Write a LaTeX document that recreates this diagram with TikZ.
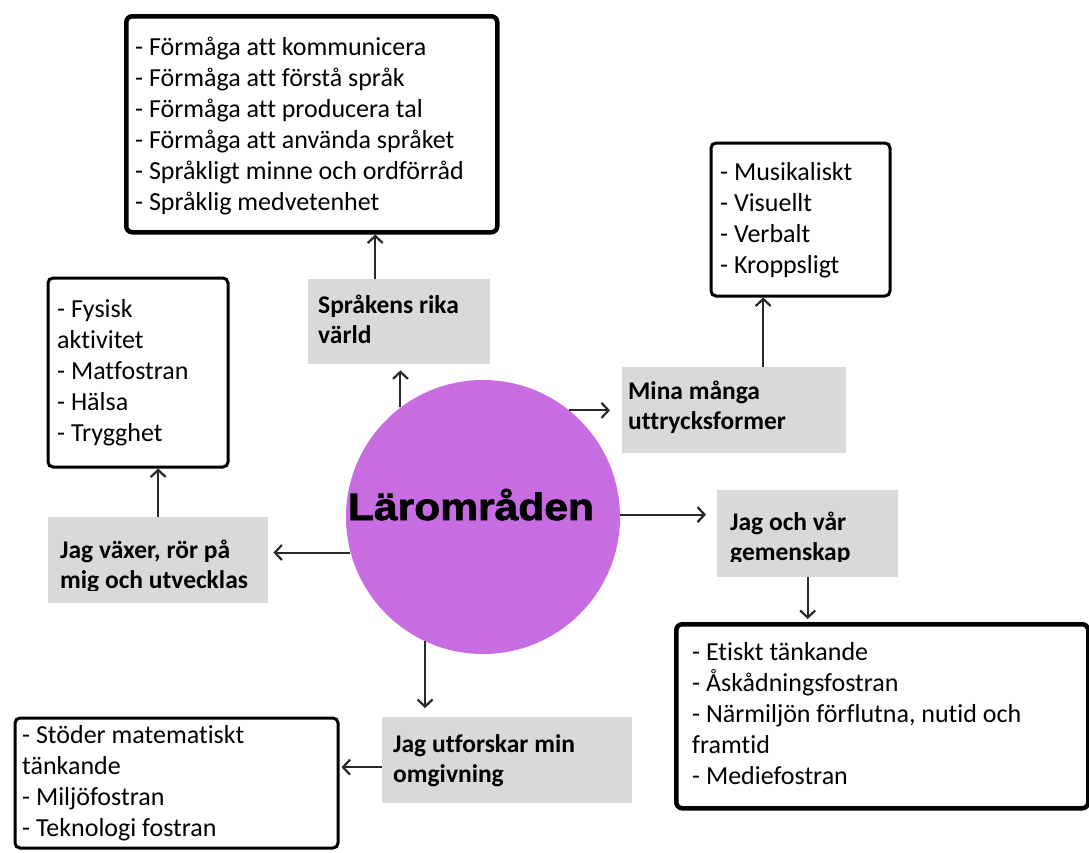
\documentclass[tikz,border=0pt]{standalone}
\usepackage{fontspec}
\setmainfont[Ligatures=NoCommon]{Carlito}
\newfontfamily\heavyfont[FakeStretch=1.12,FakeBold=2]{Liberation Sans}
\usetikzlibrary{arrows.meta}
\definecolor{circfill}{RGB}{200,108,226}
\definecolor{boxgray}{RGB}{217,217,217}
\definecolor{arrowcol}{RGB}{40,40,40}
\begin{document}
\begin{tikzpicture}[x=1pt,y=-1pt,
 thickbox/.style={draw=black, line width=4.5pt, rounded corners=6pt, fill=white, anchor=north west, inner sep=0pt},
 medbox/.style={draw=black, line width=3pt, rounded corners=5pt, fill=white, anchor=north west, inner sep=0pt},
 graybox/.style={fill=boxgray, anchor=north west, inner sep=0pt},
 listtext/.style={anchor=north west, inner sep=0pt, align=left, font=\fontsize{26}{31}\selectfont},
 labeltext/.style={anchor=north west, inner sep=0pt, align=left, font=\fontsize{25.5}{30}\selectfont\bfseries},
 arr/.style={draw=arrowcol, line width=2pt, -{Straight Barb[length=7pt,width=15pt,line width=2.2pt]}}
]
\useasboundingbox (0,0) rectangle (1089,852);
\fill[white] (0,0) rectangle (1089,852);

% boxes
\node[thickbox, minimum width=371pt, minimum height=216pt] (top) at (124,14) {};
\node[thickbox, minimum width=412pt, minimum height=184pt] (etisk) at (674,622) {};
\node[medbox, minimum width=179pt, minimum height=153pt] (musik) at (709.5,141.5) {};
\node[medbox, minimum width=180pt, minimum height=189pt] (fys) at (46.5,276.5) {};
\node[medbox, minimum width=323pt, minimum height=130pt] (stod) at (13.5,716.5) {};

\node[graybox, minimum width=182pt, minimum height=85pt] (spr) at (308,279) {};
\node[graybox, minimum width=224pt, minimum height=86pt] (mina) at (622,367) {};
\node[graybox, minimum width=220pt, minimum height=86pt] (jv) at (48,517) {};
\node[graybox, minimum width=181pt, minimum height=87pt] (jov) at (717,490) {};
\node[graybox, minimum width=250pt, minimum height=86pt] (ju) at (382,717) {};

% list texts
\node[listtext] (toptext) at (135,31) {\rule{0pt}{24pt}- Förmåga att kommunicera\\- Förmåga att förstå språk\\- Förmåga att producera tal\\- Förmåga att använda språket\\- Språkligt minne och ordförråd\\- Språklig medvetenhet};
\node[listtext] (musiktext) at (720,156) {\rule{0pt}{24pt}- Musikaliskt\\- Visuellt\\- Verbalt\\- Kroppsligt};
\node[listtext] (fystext) at (57,293) {\rule{0pt}{24pt}- Fysisk\\aktivitet\\- Matfostran\\- Hälsa\\- Trygghet};
\node[listtext] (stodtext) at (22,719) {\rule{0pt}{24pt}- Stöder matematiskt\\tänkande\\- Miljöfostran\\- Teknologi fostran};
\node[listtext] (etisktext) at (692,636) {\rule{0pt}{24pt}- Etiskt tänkande\\- Åskådningsfostran\\- Närmiljön förflutna, nutid och\\framtid\\- Mediefostran};

% labels
\node[labeltext] (sprtext) at (318,289) {\rule{0pt}{24pt}Språkens rika\\värld};
\node[labeltext] (minatext) at (628,375) {\rule{0pt}{24pt}Mina många\\uttrycksformer};
\begin{scope}
\clip (48,517) rectangle (268,590);
\node[labeltext] (jvtext) at (60,534) {\rule{0pt}{24pt}Jag växer, rör på\\mig och utvecklas};
\end{scope}
\begin{scope}
\clip (717,490) rectangle (898,561);
\node[labeltext] (jovtext) at (730,506) {\rule{0pt}{24pt}Jag och vår\\gemenskap};
\end{scope}
\node[labeltext] (jutext) at (393,728) {\rule{0pt}{24pt}Jag utforskar min\\omgivning};

% centre
\node[circle, fill=circfill, minimum size=274pt, inner sep=0pt] (circ) at (483,517) {};
\node[anchor=base, inner sep=0pt, font=\heavyfont\bfseries\fontsize{38}{40}\selectfont] (lbl) at (471,520) {Lärområden};

% connectors
\coordinate (s1) at ([xshift=-24pt]spr.north);
\coordinate (m1) at ([xshift=29pt]mina.north);
\coordinate (u1) at ([yshift=-7pt]ju.west);
\draw[arr, shorten >=6pt] (circ.127) -- (circ.127 |- spr.south);
\draw[arr, shorten >=12pt] (circ.51) -- (circ.51 -| mina.west);
\draw[arr, shorten >=11pt] (circ.1) -- (circ.1 -| jov.west);
\draw[arr, shorten >=5pt] (circ.195) -- (circ.195 -| jv.east);
\draw[arr, shorten >=9pt] (circ.245) -- (circ.245 |- ju.north);
\draw[arr] (s1) -- (s1 |- top.south);
\draw[arr] (m1) -- (m1 |- musik.south);
\draw[arr] (jv.north) -- (jv.north |- fys.south);
\draw[arr, shorten >=3pt] (jov.south) -- (jov.south |- etisk.north);
\draw[arr, shorten >=2pt] (u1) -- (u1 -| stod.east);
\end{tikzpicture}
\end{document}
